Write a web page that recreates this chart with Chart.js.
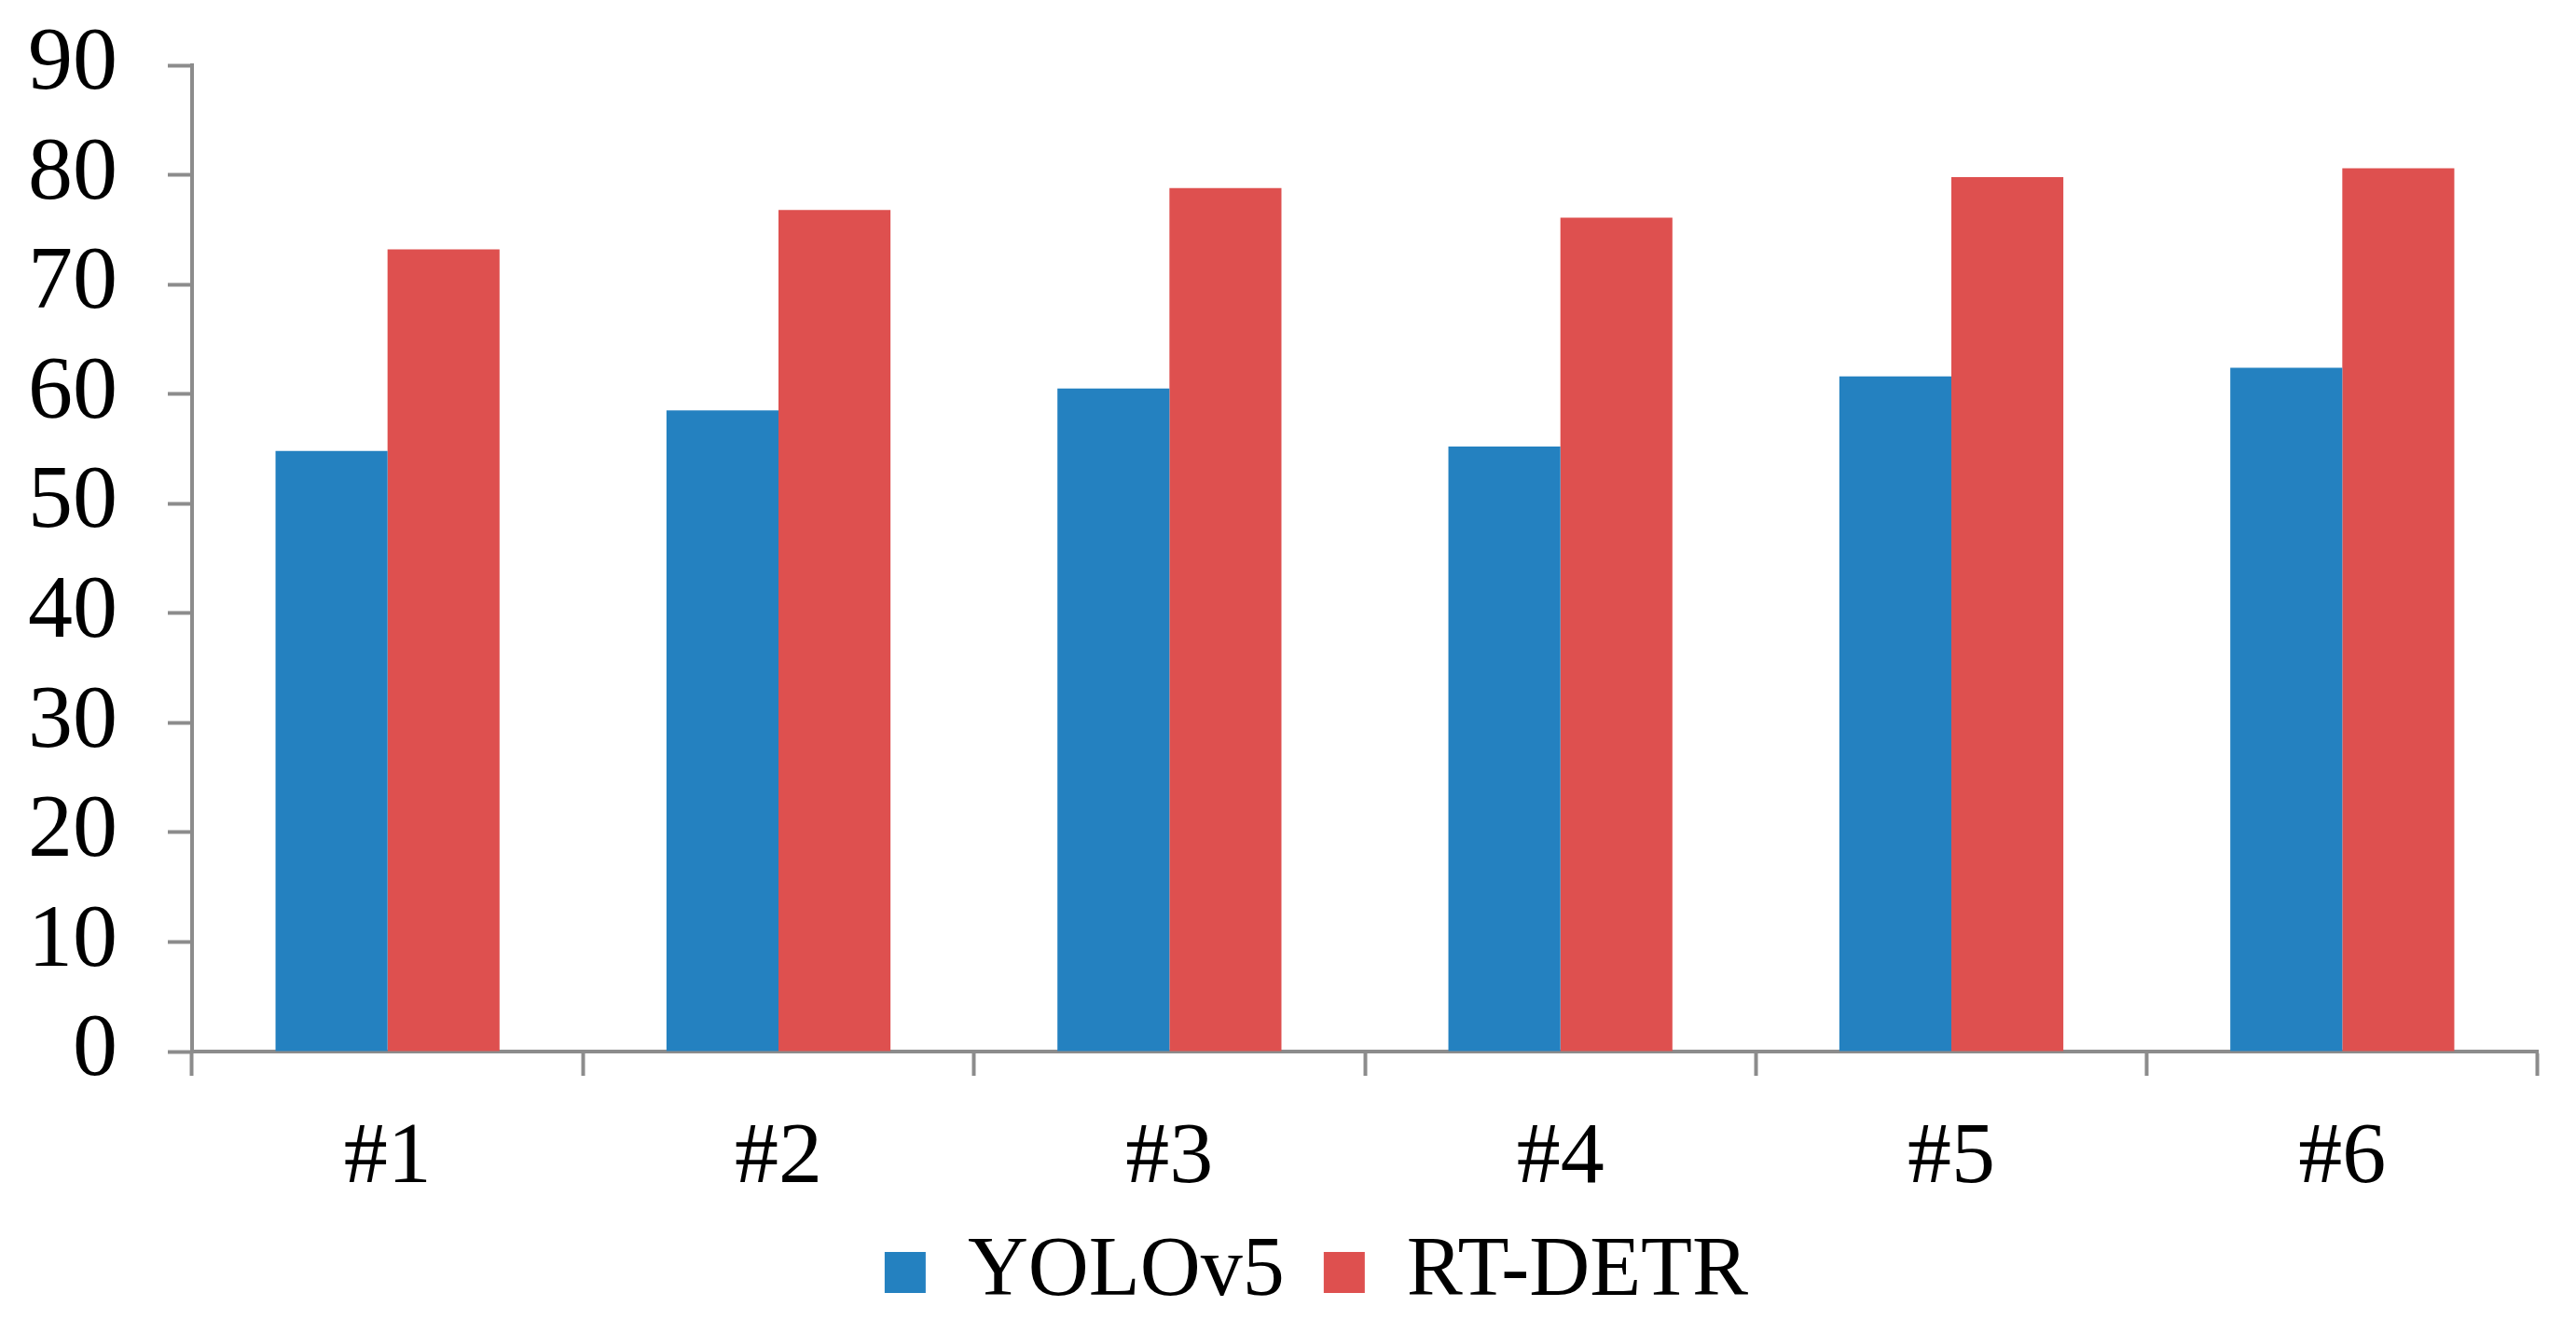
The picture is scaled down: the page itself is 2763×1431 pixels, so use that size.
<!DOCTYPE html>
<html>
<head>
<meta charset="utf-8">
<script src="https://cdn.jsdelivr.net/npm/chart.js@4.4.0/dist/chart.umd.min.js"></script>
<style>
  html, body { margin: 0; padding: 0; background: #fff; }
  #wrap { width: 2763px; height: 1431px; }
</style>
</head>
<body>
<div id="wrap"><canvas id="barChart" width="2763" height="1431"></canvas></div>
<script>
// categories and values
const categories = ['#1', '#2', '#3', '#4', '#5', '#6'];
const yoloValues = [54.8, 58.5, 60.5, 55.2, 61.6, 62.4];
const detrValues = [73.2, 76.8, 78.8, 76.1, 79.8, 80.6];
const yTicks = [0, 10, 20, 30, 40, 50, 60, 70, 80, 90];

const axisGrey = '#8c8c8c';
const serif = "'Liberation Serif', 'Times New Roman', serif";

// the legend in the original sits a little right of the canvas centre
const legendShift = {
    id: 'legendShift',
    afterLayout(chart) {
        if (chart.legend) {
            chart.legend.left += 36;
            chart.legend.right += 36;
        }
    }
};

const ctx = document.getElementById('barChart').getContext('2d');
const chart = new Chart(ctx, {
    type: 'bar',
    data: {
        labels: categories,
        datasets: [{
            label: 'YOLOv5',
            data: yoloValues,
            backgroundColor: '#2481c0',
            borderWidth: 0
        }, {
            label: 'RT-DETR',
            data: detrValues,
            backgroundColor: '#de504f',
            borderWidth: 0
        }]
    },
    plugins: [legendShift],
    options: {
        responsive: false,
        animation: false,
        devicePixelRatio: 1,
        layout: {
            padding: { left: 30, right: 41, top: 70, bottom: 11 }
        },
        datasets: {
            bar: { categoryPercentage: 0.573, barPercentage: 1.0 }
        },
        plugins: {
            tooltip: { enabled: false },
            legend: {
                position: 'bottom',
                labels: {
                    color: '#000',
                    font: { family: serif, size: 90 },
                    boxWidth: 44,
                    boxHeight: 44,
                    padding: 42
                }
            }
        },
        scales: {
            x: {
                offset: true,
                afterFit: axis => {
                    axis.height = 150;
                },
                grid: {
                    offset: true,
                    drawOnChartArea: false,
                    drawTicks: true,
                    tickLength: 26,
                    tickWidth: 4,
                    tickColor: axisGrey
                },
                border: { color: axisGrey, width: 4 },
                ticks: {
                    color: '#000',
                    font: { family: serif, size: 94, lineHeight: 0.9 },
                    padding: 47
                }
            },
            y: {
                min: 0,
                max: 90,
                afterBuildTicks: axis => {
                    axis.ticks = yTicks.map(v => ({ value: v }));
                },
                afterFit: axis => {
                    // fixed width, and no extra room reserved for the top label
                    axis.width = 176;
                    axis.paddingTop = 0;
                    axis.paddingBottom = 0;
                },
                grid: {
                    drawOnChartArea: false,
                    drawTicks: true,
                    tickLength: 26,
                    tickWidth: 4,
                    tickColor: axisGrey
                },
                border: { color: axisGrey, width: 4 },
                ticks: {
                    autoSkip: false,
                    color: '#000',
                    font: { family: serif, size: 96 },
                    padding: 54
                }
            }
        }
    }
});
</script>
</body>
</html>
